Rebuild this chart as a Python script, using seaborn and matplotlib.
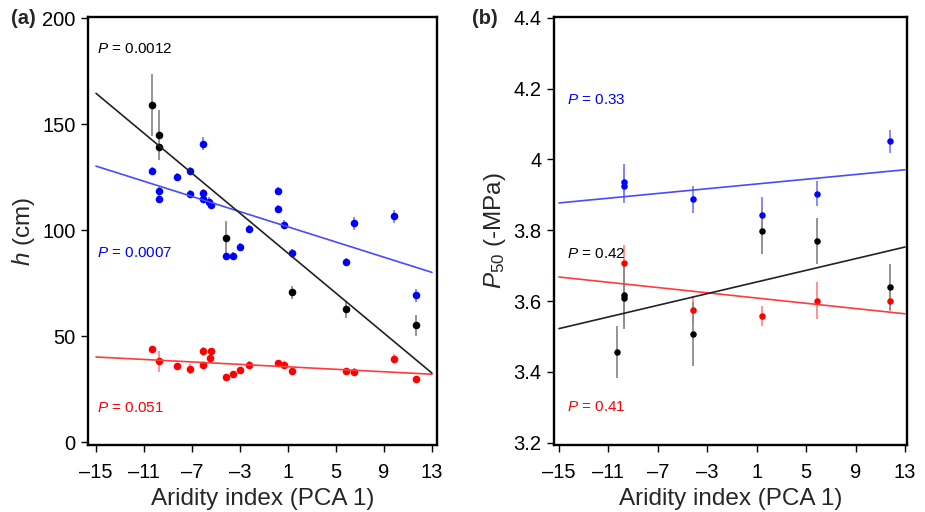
import numpy as np
import pandas as pd
import matplotlib
matplotlib.use('Agg')
import matplotlib.pyplot as plt
import seaborn as sns

# panel (a): plant height vs aridity
a_x_black = [-10.33, -9.72, -9.72, -4.19, 1.36, 5.83, 11.67]
a_h_black = [159, 145, 139, 96.4, 70.6, 62.7, 55]
a_err_black = [14.5, 11.8, 2, 8, 3, 4, 5]

a_x_blue = [-10.33, -9.72, -9.72, -8.28, -7.14, -7.17, -6.06, -6.06, -6.06, -5.56, -5.44,
            -4.17, -3.61, -3.0, -2.22, 0.14, 0.14, 0.69, 1.36, 5.83, 6.53, 9.83, 11.67]
a_h_blue = [127.8, 118.3, 114.7, 125, 127.8, 117, 140.8, 117.4, 114.7, 113.4, 112,
            87.8, 87.8, 92, 100.5, 118.3, 109.9, 102.5, 89, 84.8, 103.2, 106.5, 69.2]
a_err_blue = [2, 2, 2, 2, 2, 2, 3, 2, 2, 2, 2,
              2, 2, 2, 2, 2, 2, 2, 2, 2, 3, 3, 3]

a_x_red = [-10.33, -9.72, -8.28, -7.14, -6.06, -6.06, -5.44, -5.5, -4.19, -3.6, -3.0,
           -2.22, 0.14, 0.69, 1.36, 5.83, 6.53, 9.83, 11.67]
a_h_red = [44, 38, 36, 34.4, 42.8, 36.3, 42.9, 39.6, 30.5, 31.9, 33.8,
           36.5, 37.3, 36.5, 33.5, 33.6, 33.2, 39.3, 29.5]
a_err_red = [1.5, 5, 1.5, 2.5, 2, 1.5, 1.5, 1.5, 1.5, 1.5, 1.5,
             1.5, 1.5, 1.5, 1.5, 1.5, 1.5, 2, 1.5]

# panel (b): P50 vs aridity
b_x_blue = [-9.72, -9.72, -4.15, 1.41, 5.9, 11.76]
b_p50_blue = [3.937, 3.926, 3.888, 3.844, 3.903, 4.051]
b_err_blue = [0.05, 0.05, 0.038, 0.049, 0.035, 0.033]

b_x_black = [-10.29, -9.72, -9.72, -4.15, 1.41, 5.9, 11.76]
b_p50_black = [3.457, 3.617, 3.610, 3.508, 3.799, 3.769, 3.639]
b_err_black = [0.073, 0.09, 0.09, 0.09, 0.067, 0.065, 0.065]

b_x_red = [-9.72, -4.15, 1.41, 5.9, 11.76]
b_p50_red = [3.708, 3.575, 3.559, 3.601, 3.6]
b_err_red = [0.05, 0.04, 0.028, 0.052, 0.028]

x_ticks = [-15, -11, -7, -3, 1, 5, 9, 13]
a_y_ticks = [0, 50, 100, 150, 200]
b_y_ticks = [3.2, 3.4, 3.6, 3.8, 4.0, 4.2, 4.4]
b_y_labels = ['3.2', '3.4', '3.6', '3.8', '4', '4.2', '4.4']

sns.set_style('ticks')
plt.rcParams['font.family'] = ['Liberation Sans', 'DejaVu Sans']
plt.rcParams['mathtext.fontset'] = 'custom'
plt.rcParams['mathtext.rm'] = 'Liberation Sans'
plt.rcParams['mathtext.it'] = 'Liberation Sans:italic'

styles = {
    'black': dict(pt='black', err='#8c8c8c', line='#222222'),
    'blue': dict(pt='#0000ff', err='#8080ff', line='#4a4aff'),
    'red': dict(pt='#ff0000', err='#ff8a8a', line='#ff3c3c'),
}


def draw_group(ax, x, y, err, key, size):
    st = styles[key]
    ax.errorbar(x, y, yerr=err, fmt='none', ecolor=st['err'], elinewidth=1.3, zorder=2)
    sns.scatterplot(x=x, y=y, color=st['pt'], s=size, linewidth=0, ax=ax, zorder=3)
    ax.set_xlim(-15, 13)
    sns.regplot(x=x, y=y, scatter=False, ci=None, truncate=False, ax=ax,
                line_kws=dict(color=st['line'], lw=1.2, zorder=4))


fig = plt.figure(figsize=(9.25, 5.12), dpi=100)
ax_a = fig.add_axes([0.0951, 0.1309, 0.3773, 0.8359])
ax_b = fig.add_axes([0.599, 0.1309, 0.3815, 0.8359])

draw_group(ax_a, a_x_red, a_h_red, a_err_red, 'red', 30)
draw_group(ax_a, a_x_blue, a_h_blue, a_err_blue, 'blue', 30)
draw_group(ax_a, a_x_black, a_h_black, a_err_black, 'black', 30)

draw_group(ax_b, b_x_red, b_p50_red, b_err_red, 'red', 22)
draw_group(ax_b, b_x_blue, b_p50_blue, b_err_blue, 'blue', 22)
draw_group(ax_b, b_x_black, b_p50_black, b_err_black, 'black', 22)

ax_a.set_xlim(-15.67, 13.42)
ax_a.set_ylim(-1.4, 200.5)
ax_a.set_yticks(a_y_ticks)
ax_b.set_xlim(-15.4, 13.16)
ax_b.set_ylim(3.194, 4.402)
ax_b.set_yticks(b_y_ticks)
ax_b.set_yticklabels(b_y_labels)

for ax in (ax_a, ax_b):
    ax.set_xticks(x_ticks)
    ax.set_xticklabels([str(t).replace('-', '\u2013') for t in x_ticks])
    for sp in ax.spines.values():
        sp.set_visible(True)
        sp.set_linewidth(1.7)
        sp.set_color('black')
    ax.tick_params(axis='both', labelsize=14.5, length=5, width=1, color='black',
                   labelcolor='black')
    ax.tick_params(axis='x', pad=8)
    ax.tick_params(axis='y', pad=4)
    ax.set_xlabel('Aridity index (PCA 1)', fontsize=17.5, labelpad=4)
    ax.grid(False)

ax_a.set_ylabel('$h$ (cm)', fontsize=17.5, labelpad=4)
ax_b.set_ylabel('$P_{50}$ (-MPa)', fontsize=17.5, labelpad=4)

ax_a.text(0.026, 0.925, '$P$ = 0.0012', transform=ax_a.transAxes, color='black',
          fontsize=11, va='center')
ax_a.text(0.026, 0.449, '$P$ = 0.0007', transform=ax_a.transAxes, color='#0000ff',
          fontsize=11, va='center')
ax_a.text(0.026, 0.086, '$P$ = 0.051', transform=ax_a.transAxes, color='#ff0000',
          fontsize=11, va='center')

ax_b.text(0.037, 0.806, '$P$ = 0.33', transform=ax_b.transAxes, color='#0000ff',
          fontsize=11, va='center')
ax_b.text(0.037, 0.446, '$P$ = 0.42', transform=ax_b.transAxes, color='black',
          fontsize=11, va='center')
ax_b.text(0.037, 0.089, '$P$ = 0.41', transform=ax_b.transAxes, color='#ff0000',
          fontsize=11, va='center')

fig.text(11 / 925, 1 - 18 / 512, '(a)', fontsize=14.5, fontweight='bold', va='center')
fig.text(472 / 925, 1 - 18 / 512, '(b)', fontsize=14.5, fontweight='bold', va='center')

fig.savefig('out.png', dpi=100)
